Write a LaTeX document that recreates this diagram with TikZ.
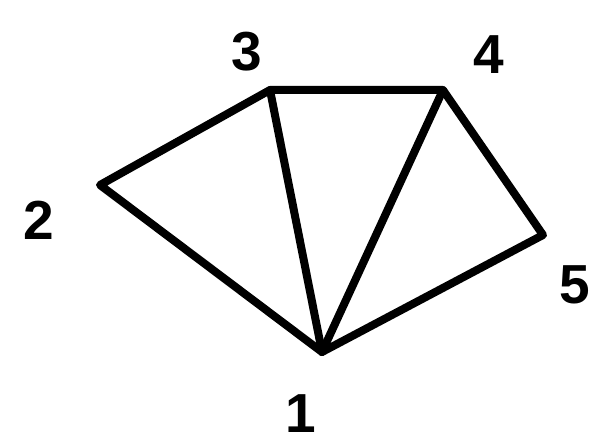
\documentclass[tikz,border=0pt]{standalone}
\usepackage{fontspec}
\setmainfont{Liberation Sans}
\begin{document}
\begin{tikzpicture}[x=1pt,y=-1pt,
  edge/.style={line width=8pt,line join=round,line cap=round},
  lbl/.style={font=\fontsize{55}{55}\selectfont\bfseries,inner sep=0pt}]
\useasboundingbox (0,0) rectangle (597,446);
\coordinate (v1) at (322,352);
\coordinate (v2) at (100,185);
\coordinate (v3) at (270,90);
\coordinate (v4) at (443,90);
\coordinate (v5) at (543,235);
\draw[edge] (v1) -- (v2) -- (v3) -- (v4) -- (v5) -- cycle;
\draw[edge] (v1) -- (v3);
\draw[edge] (v1) -- (v4);
\node[lbl] (l1) at (301,414) {1};
\node[lbl] (l2) at (39,220) {2};
\node[lbl] (l3) at (247,52) {3};
\node[lbl] (l4) at (489,55) {4};
\node[lbl] (l5) at (575,285) {5};
\end{tikzpicture}
\end{document}
